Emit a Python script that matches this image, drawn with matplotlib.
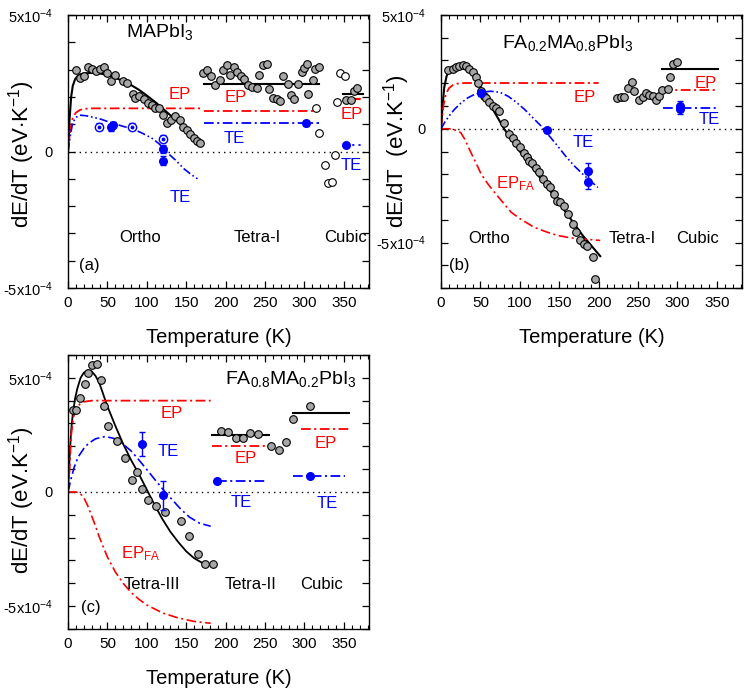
import matplotlib
matplotlib.use("Agg")
import matplotlib.pyplot as plt
import numpy as np

plt.rcParams['font.family'] = ['Liberation Sans', 'DejaVu Sans']
plt.rcParams['mathtext.fontset'] = 'custom'
plt.rcParams['mathtext.rm'] = 'Liberation Sans'
plt.rcParams['mathtext.it'] = 'Liberation Sans:italic'
plt.rcParams['mathtext.bf'] = 'Liberation Sans:bold'
plt.rcParams['lines.scale_dashes'] = False

SCALE = 1e-4  # values below are in units of 1e-4 eV/K

# ---------------- Panel (a): MAPbI3 ----------------
a_gray_T = [9.8, 14.9, 20, 25.5, 31, 36, 41, 46, 50, 55, 60, 70, 74.5, 82, 85, 90.6, 96, 101, 106,
            110.6, 116, 121, 125.5, 130.6, 136, 141.7, 146, 151, 155, 159.6, 164, 167,
            171.5, 176.6, 181.7, 186.4, 192.3, 197, 202, 205.5, 210.6, 214.9, 220, 223.4, 228.5,
            234, 239.6, 242.6, 246.8, 251.9, 255.3, 260.4, 264.7, 269.4, 273.2, 278.7, 283,
            287.2, 291.5, 296.6, 300, 302.6, 305, 310.6, 313.6, 318.3, 353, 359.5, 363, 367]
a_gray_v = [3.0, 2.7, 2.76, 3.09, 3.03, 2.94, 3.04, 3.09, 2.88, 2.58, 2.82, 2.58, 2.5, 2.09, 1.95,
            2.03, 1.94, 1.77, 1.69, 1.61, 1.61, 1.33, 1.04, 1.16, 1.31, 1.16, 0.88, 0.80, 0.64,
            0.48, 0.40, 0.31,
            2.88, 2.97, 2.76, 2.42, 2.61, 2.97, 3.15, 2.82, 3.08, 2.92, 2.76, 2.64, 2.42,
            2.37, 2.31, 2.80, 3.18, 3.22, 2.30, 1.97, 1.92, 1.85, 2.78, 2.49, 2.06,
            1.94, 2.49, 2.91, 3.06, 3.22, 2.09, 2.61, 3.03, 3.08, 1.90, 1.90, 2.20, 2.34]
a_open_T = [315, 318, 325.5, 330, 335, 339, 341.7, 345, 351]
a_open_v = [1.61, 0.67, -0.51, -1.14, -1.11, -0.11, 1.83, 2.88, 2.78]

a_fit_T = [0, 2, 4, 6, 9, 12, 16, 20, 30, 40, 50, 60, 75, 90, 100, 112, 125, 137, 150, 160, 168]
a_fit_v = [0, 1.2, 2.0, 2.4, 2.65, 2.76, 2.83, 2.86, 2.88, 2.86, 2.80, 2.70, 2.52, 2.26, 2.05, 1.78, 1.45, 1.15, 0.82, 0.55, 0.35]
a_tetra_T = [172, 319]
a_tetra_v = [2.49, 2.49]
a_cubic_T = [349, 374]
a_cubic_v = [2.09, 2.09]

a_ep_T = [0, 3, 6, 10, 15, 20, 30, 168]
a_ep_v = [0, 0.8, 1.25, 1.42, 1.52, 1.56, 1.58, 1.58]
a_ep_tetra_T = [172, 318]
a_ep_tetra_v = [1.47, 1.47]
a_ep_cubic_T = [350, 374]
a_ep_cubic_v = [1.94, 1.94]

a_te_T = [0, 3, 6, 10, 15, 23, 40, 53, 70, 83, 95, 108, 116, 125, 137, 147, 157, 167]
a_te_v = [0, 0.6, 1.05, 1.25, 1.33, 1.31, 1.20, 1.07, 0.92, 0.82, 0.66, 0.46, 0.27, -0.02, -0.33, -0.63, -0.86, -1.05]
a_te_tetra_T = [172, 318]
a_te_tetra_v = [1.03, 1.03]
a_te_cubic_T = [353, 374]
a_te_cubic_v = [0.24, 0.24]

a_blue_T = [55, 57, 121, 121, 302, 353]
a_blue_v = [0.88, 0.97, 0.10, -0.33, 1.03, 0.24]
a_blue_err = [0.12, 0.12, 0.15, 0.15, 0.08, 0.0]
a_bopen_T = [39.6, 81, 120.4]
a_bopen_v = [0.91, 0.91, 0.46]
a_bopen_err = [0.13, 0.13, 0.13]

# ---------------- Panel (b): FA0.2MA0.8PbI3 ----------------
b_gray_T = [9.3, 14.8, 19, 23, 27.5, 31.7, 36, 40, 44.4, 47, 50.7, 54, 57, 61.3, 65.5, 69.7, 74, 80.3,
            86.6, 91, 95, 100.6, 104.8, 109, 112, 116, 120.5, 124.7, 129, 134.4, 138.6, 143, 147,
            151, 155.5, 160.6, 167, 171, 176.7, 181, 185, 192.3, 195.7,
            222.7, 228, 232.5, 237.5, 241.8, 245, 250.6, 255.7, 260, 264, 268.4, 272.6, 276.8,
            281, 287.4, 290.4, 294.6, 300]
b_gray_v = [2.59, 2.62, 2.70, 2.77, 2.81, 2.74, 2.62, 2.49, 2.27, 2.01, 1.65, 1.46, 1.36, 1.17, 0.99,
            0.92, 0.77, 0.26, -0.25, -0.42, -0.61, -0.79, -1.05, -1.22, -1.41, -1.52, -1.71, -1.92,
            -2.19, -2.43, -2.58, -2.87, -3.16, -3.24, -3.38, -3.75, -4.18, -4.55, -4.91, -5.06,
            -5.16, -5.64, -6.62,
            1.36, 1.38, 1.38, 1.79, 2.04, 1.68, 1.28, 1.40, 1.57, 1.50, 1.43, 1.28, 1.43,
            1.69, 1.75, 2.27, 2.86, 2.93]
b_fit_T = [0, 2, 4, 7, 10, 15, 20, 25, 30, 35, 40, 50, 60, 80, 100, 120, 140, 160, 180, 202]
b_fit_v = [0, 1.0, 1.8, 2.3, 2.55, 2.72, 2.8, 2.82, 2.78, 2.65, 2.45, 1.85, 1.2, 0.0, -1.0, -1.9, -2.8, -3.75, -4.7, -5.6]
b_cubic_T = [281, 352]
b_cubic_v = [2.64, 2.64]

b_ep_T = [0, 3, 6, 10, 15, 20, 30, 200]
b_ep_v = [0, 1.0, 1.5, 1.78, 1.92, 1.98, 2.01, 2.01]
b_ep_cubic_T = [281, 349]
b_ep_cubic_v = [1.72, 1.72]
b_epfa_T = [0, 10, 15, 20, 25, 30, 38, 45, 51, 60, 68, 80, 89, 100, 118, 135, 148, 165, 178, 202]
b_epfa_v = [0, 0, -0.02, -0.08, -0.17, -0.45, -1.05, -1.55, -2.0, -2.45, -2.8, -3.3, -3.67, -3.95, -4.33, -4.55, -4.69, -4.8, -4.84, -4.91]

b_te_T = [0, 5, 10, 17, 25, 34, 42, 51, 63, 75, 85, 95, 106, 116, 127, 137, 148, 158, 169, 180, 199]
b_te_v = [0, 0.3, 0.55, 0.85, 1.12, 1.36, 1.50, 1.60, 1.65, 1.60, 1.43, 1.18, 0.85, 0.50, 0.12, -0.30, -0.76, -1.2, -1.63, -2.0, -2.58]
b_te_cubic_T = [282, 351]
b_te_cubic_v = [0.92, 0.92]

b_blue_T = [50.7, 135, 186, 186, 303, 303]
b_blue_v = [1.57, -0.06, -1.85, -2.33, 0.85, 1.0]
b_blue_err = [0.15, 0.08, 0.36, 0.32, 0.2, 0.2]

# ---------------- Panel (c): FA0.8MA0.2PbI3 ----------------
c_gray_T = [6.4, 10.7, 15.8, 21.4, 25.7, 30.8, 36.4, 42, 46.2, 51.3, 62, 71.9, 81.3, 86.9, 94.1,
            101.8, 112.1, 123.2, 143.3, 153.2, 164.7, 174.2, 184,
            193.8, 203, 213, 222.5, 231, 241, 258, 267.4, 276.9, 285.8, 306.8]
c_gray_v = [3.57, 3.60, 4.12, 4.75, 5.22, 5.54, 5.62, 4.90, 3.78, 2.90, 2.24, 1.50, 0.51, 0.88, 0.15,
            -0.34, -0.63, -0.88, -1.25, -1.91, -2.72, -3.16, -3.16,
            2.65, 2.62, 2.35, 2.35, 2.57, 2.54, 2.03, 1.84, 2.21, 3.19, 3.75]
c_fit_T = [0, 2, 4, 6, 9, 12, 16, 20, 25, 30, 35, 40, 50, 60, 70, 80, 90, 100, 110, 120, 130, 140, 150, 160, 170, 180]
c_fit_v = [0, 1.5, 2.7, 3.4, 4.1, 4.55, 5.0, 5.22, 5.33, 5.28, 5.08, 4.75, 3.75, 2.9, 2.1, 1.4, 0.78, 0.1, -0.58, -1.2, -1.75, -2.2, -2.6, -2.9, -3.1, -3.2]
c_tetra_T = [183, 255]
c_tetra_v = [2.5, 2.5]
c_cubic_T = [286, 357]
c_cubic_v = [3.46, 3.46]

c_ep_T = [0, 2, 4, 7, 10, 15, 20, 30, 181]
c_ep_v = [0, 1.0, 2.5, 3.3, 3.6, 3.85, 3.95, 4.0, 4.0]
c_ep_tetra_T = [183, 255]
c_ep_tetra_v = [2.01, 2.01]
c_ep_cubic_T = [295, 357]
c_ep_cubic_v = [2.76, 2.76]
c_epfa_T = [0, 10, 15, 20, 25, 30, 35, 40, 50, 60, 70, 80, 90, 100, 120, 140, 160, 181]
c_epfa_v = [0, 0, -0.05, -0.25, -0.6, -1.05, -1.5, -2.0, -2.85, -3.5, -4.0, -4.4, -4.7, -4.95, -5.3, -5.52, -5.67, -5.75]

c_te_T = [0, 4, 8, 13, 20, 26, 35, 47, 58, 68.5, 80, 90, 100, 111, 122, 133, 143, 154, 167, 181]
c_te_v = [0, 0.6, 1.1, 1.54, 1.9, 2.13, 2.33, 2.43, 2.35, 2.13, 1.8, 1.40, 0.98, 0.51, 0.05, -0.37, -0.75, -1.10, -1.37, -1.5]
c_te_tetra_T = [189, 252]
c_te_tetra_v = [0.49, 0.49]
c_te_cubic_T = [286, 352]
c_te_cubic_v = [0.69, 0.69]

c_blue_T = [93.3, 120.7, 189, 306.8]
c_blue_v = [2.10, -0.15, 0.49, 0.69]
c_blue_err = [0.52, 0.62, 0.08, 0.06]

RED = '#ff0000'
BLUE = '#0000ff'
GRAY = '#a6a6a6'
EP_DASH = (0, (7, 2.5, 1.5, 2.5))
TE_DASH = (0, (6, 2, 1.2, 2, 1.2, 2))
TE_DASH2 = (0, (7, 2.5, 1.5, 2.5))

fig = plt.figure(figsize=(7.49, 6.94), dpi=100)
ax_a = fig.add_axes([0.0908, 0.585, 0.402, 0.3934])
ax_b = fig.add_axes([0.5888, 0.585, 0.402, 0.3934])
ax_c = fig.add_axes([0.0908, 0.0937, 0.402, 0.3948])


def s(v):
    return np.array(v) * SCALE


def style(ax, ylo, yhi, ylabel, labx, laby=0.5):
    ax.set_xlim(0, 382)
    ax.set_ylim(ylo * SCALE, yhi * SCALE)
    ax.set_xticks(np.arange(0, 351, 50))
    ax.set_xticks(np.arange(0, 381, 10), minor=True)
    yt = np.arange(ylo, yhi + 0.5, 1) * SCALE
    ax.set_yticks(yt)
    labs = []
    for v in np.arange(ylo, yhi + 0.5, 1):
        v = int(round(v))
        if v == 5:
            labs.append(r'5x10$^{\mathregular{-4}}$')
        elif v == -5:
            labs.append(r'-5x10$^{\mathregular{-4}}$')
        elif v == 0:
            labs.append('0')
        else:
            labs.append('')
    ax.set_yticklabels(labs)
    ax.tick_params(axis='both', which='major', direction='in', length=5, width=0.9,
                   top=True, right=True, labelsize=11)
    ax.tick_params(axis='y', which='major', pad=11, labelsize=10.5)
    ax.tick_params(axis='x', which='major', pad=6)
    ax.tick_params(axis='x', which='minor', direction='in', length=3, width=0.8, top=True)
    for sp in ax.spines.values():
        sp.set_linewidth(1.0)
    ax.axhline(0, color='black', lw=1.0, ls=(0, (1, 3)), zorder=1)
    ax.set_xlabel('Temperature (K)', fontsize=14.5, labelpad=13)
    ax.set_ylabel(ylabel, fontsize=16)
    ax.yaxis.set_label_coords(labx, laby)


def gray(ax, T, v, fc=GRAY):
    ax.plot(T, s(v), 'o', ms=5.5, mfc=fc, mec='black', mew=0.8, zorder=3, ls='none')


def blue(ax, T, v, err):
    ax.errorbar(T, s(v), yerr=s(err), fmt='o', ms=5.5, color=BLUE, mfc=BLUE, mec=BLUE,
                ecolor=BLUE, elinewidth=1.0, capsize=2.5, capthick=1.0, zorder=4)


# ---- (a)
ax = ax_a
style(ax, -5, 5, r'dE/dT (eV$\cdot$K$^{\mathregular{-1}}$)', -0.103, 0.49)
ax.plot(a_fit_T, s(a_fit_v), color='black', lw=1.5, zorder=2)
ax.plot(a_tetra_T, s(a_tetra_v), color='black', lw=1.5, zorder=2)
ax.plot(a_cubic_T, s(a_cubic_v), color='black', lw=1.5, zorder=2)
ax.plot(a_ep_T, s(a_ep_v), color=RED, lw=1.3, ls=EP_DASH)
ax.plot(a_ep_tetra_T, s(a_ep_tetra_v), color=RED, lw=1.3, ls=EP_DASH)
ax.plot(a_ep_cubic_T, s(a_ep_cubic_v), color=RED, lw=1.6, ls=(0, (5, 2)))
ax.plot(a_te_T, s(a_te_v), color=BLUE, lw=1.2, ls=TE_DASH)
ax.plot(a_te_tetra_T, s(a_te_tetra_v), color=BLUE, lw=1.3, ls=TE_DASH2)
ax.plot(a_te_cubic_T, s(a_te_cubic_v), color=BLUE, lw=1.3, ls=(0, (1.5, 3)))
gray(ax, a_gray_T, a_gray_v)
gray(ax, a_open_T, a_open_v, fc='white')
blue(ax, a_blue_T, a_blue_v, a_blue_err)
ax.errorbar(a_bopen_T, s(a_bopen_v), yerr=s(a_bopen_err), fmt='o', ms=6, mfc='white', mec=BLUE,
            mew=1.0, ecolor=BLUE, elinewidth=1.0, capsize=2.5, zorder=4)
ax.plot(a_bopen_T, s(a_bopen_v), 'o', ms=1.8, color=BLUE, zorder=5)
ax.text(73, 4.38e-4, r'MAPbI$_3$', fontsize=14, va='center')
ax.text(142, 2.09e-4, 'EP', color=RED, fontsize=12, ha='center', va='center')
ax.text(213, 1.97e-4, 'EP', color=RED, fontsize=12, ha='center', va='center')
ax.text(360, 1.37e-4, 'EP', color=RED, fontsize=12, ha='center', va='center')
ax.text(142, -1.69e-4, 'TE', color=BLUE, fontsize=12, ha='center', va='center')
ax.text(211, 0.48e-4, 'TE', color=BLUE, fontsize=12, ha='center', va='center')
ax.text(359, -0.51e-4, 'TE', color=BLUE, fontsize=12, ha='center', va='center')
ax.text(91, -3.15e-4, 'Ortho', fontsize=12, ha='center', va='center')
ax.text(240, -3.15e-4, 'Tetra-I', fontsize=12, ha='center', va='center')
ax.text(352, -3.15e-4, 'Cubic', fontsize=12, ha='center', va='center')
ax.text(27, -4.18e-4, '(a)', fontsize=12, ha='center', va='center')

# ---- (b)
ax = ax_b
style(ax, -7, 5, r'dE/dT  (eV.K$^{\mathregular{-1}}$)', -0.096, 0.5)
ax.plot(b_fit_T, s(b_fit_v), color='black', lw=1.5, zorder=2)
ax.plot(b_cubic_T, s(b_cubic_v), color='black', lw=1.5, zorder=2)
ax.plot(b_ep_T, s(b_ep_v), color=RED, lw=1.3, ls=EP_DASH)
ax.plot(b_ep_cubic_T, s(b_ep_cubic_v), color=RED, lw=1.3, ls=EP_DASH)
ax.plot(b_epfa_T, s(b_epfa_v), color=RED, lw=1.2, ls=EP_DASH)
ax.plot(b_te_T, s(b_te_v), color=BLUE, lw=1.2, ls=TE_DASH)
ax.plot(b_te_cubic_T, s(b_te_cubic_v), color=BLUE, lw=1.3, ls=TE_DASH2)
gray(ax, b_gray_T, b_gray_v)
blue(ax, b_blue_T, b_blue_v, b_blue_err)
ax.text(78, 3.76e-4, r'FA$_{0.2}$MA$_{0.8}$PbI$_3$', fontsize=14, va='center')
ax.text(182, 1.36e-4, 'EP', color=RED, fontsize=12, ha='center', va='center')
ax.text(336, 2.01e-4, 'EP', color=RED, fontsize=12, ha='center', va='center')
ax.text(180, -0.61e-4, 'TE', color=BLUE, fontsize=12, ha='center', va='center')
ax.text(340, 0.41e-4, 'TE', color=BLUE, fontsize=12, ha='center', va='center')
ax.text(95, -2.43e-4, r'EP$_{\mathregular{FA}}$', color=RED, fontsize=12, ha='center', va='center')
ax.text(61, -4.84e-4, 'Ortho', fontsize=12, ha='center', va='center')
ax.text(243, -4.84e-4, 'Tetra-I', fontsize=12, ha='center', va='center')
ax.text(325, -4.84e-4, 'Cubic', fontsize=12, ha='center', va='center')
ax.text(23, -6.0e-4, '(b)', fontsize=12, ha='center', va='center')

# ---- (c)
ax = ax_c
style(ax, -6, 6, r'dE/dT (eV.K$^{\mathregular{-1}}$)', -0.103, 0.47)
ax.plot(c_fit_T, s(c_fit_v), color='black', lw=1.3, zorder=2)
ax.plot(c_tetra_T, s(c_tetra_v), color='black', lw=1.5, zorder=2)
ax.plot(c_cubic_T, s(c_cubic_v), color='black', lw=1.5, zorder=2)
ax.plot(c_ep_T, s(c_ep_v), color=RED, lw=1.3, ls=EP_DASH)
ax.plot(c_ep_tetra_T, s(c_ep_tetra_v), color=RED, lw=1.3, ls=EP_DASH)
ax.plot(c_ep_cubic_T, s(c_ep_cubic_v), color=RED, lw=1.3, ls=EP_DASH)
ax.plot(c_epfa_T, s(c_epfa_v), color=RED, lw=1.2, ls=EP_DASH)
ax.plot(c_te_T, s(c_te_v), color=BLUE, lw=1.2, ls=TE_DASH2)
ax.plot(c_te_tetra_T, s(c_te_tetra_v), color=BLUE, lw=1.3, ls=TE_DASH2)
ax.plot(c_te_cubic_T, s(c_te_cubic_v), color=BLUE, lw=1.3, ls=TE_DASH2)
gray(ax, c_gray_T, c_gray_v)
blue(ax, c_blue_T, c_blue_v, c_blue_err)
ax.text(199, 4.96e-4, r'FA$_{0.8}$MA$_{0.2}$PbI$_3$', fontsize=14, va='center')
ax.text(131, 3.43e-4, 'EP', color=RED, fontsize=12, ha='center', va='center')
ax.text(127, 1.76e-4, 'TE', color=BLUE, fontsize=12, ha='center', va='center')
ax.text(225, 1.47e-4, 'EP', color=RED, fontsize=12, ha='center', va='center')
ax.text(220, -0.47e-4, 'TE', color=BLUE, fontsize=12, ha='center', va='center')
ax.text(327, 2.13e-4, 'EP', color=RED, fontsize=12, ha='center', va='center')
ax.text(329, -0.51e-4, 'TE', color=BLUE, fontsize=12, ha='center', va='center')
ax.text(92, -2.72e-4, r'EP$_{\mathregular{FA}}$', color=RED, fontsize=12, ha='center', va='center')
ax.text(107, -4.04e-4, 'Tetra-III', fontsize=12, ha='center', va='center')
ax.text(231, -4.04e-4, 'Tetra-II', fontsize=12, ha='center', va='center')
ax.text(321, -4.04e-4, 'Cubic', fontsize=12, ha='center', va='center')
ax.text(29, -5.07e-4, '(c)', fontsize=12, ha='center', va='center')

fig.savefig('out.png', dpi=100)
